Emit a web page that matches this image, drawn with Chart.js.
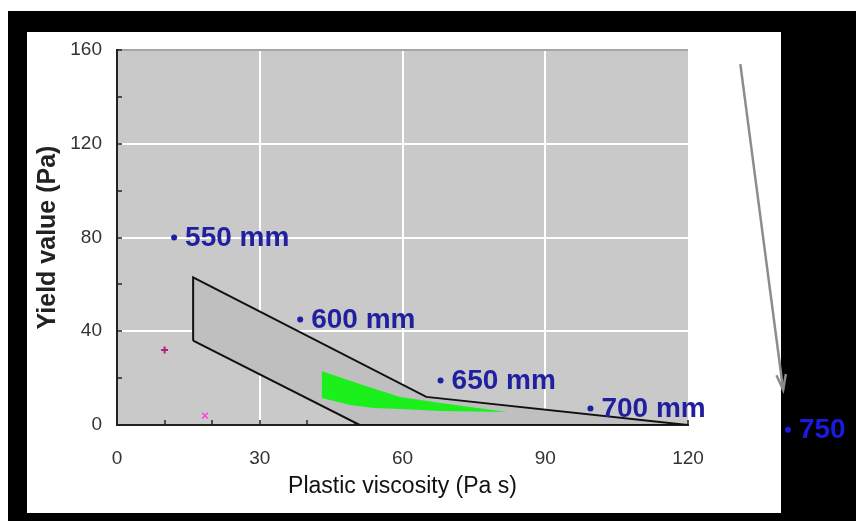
<!DOCTYPE html>
<html>
<head>
<meta charset="utf-8">
<title>Yield value vs plastic viscosity</title>
<script src="https://cdn.jsdelivr.net/npm/chart.js@4.4.0/dist/chart.umd.min.js"></script>
<style>
  html, body { margin: 0; padding: 0; background: #fff; }
  #page { position: relative; width: 856px; height: 521px; overflow: hidden; }
  #frame { position: absolute; left: 8px; top: 11px; right: 0; bottom: 0; background: #000; }
  #panel { position: absolute; left: 27px; top: 32px; width: 754px; height: 481px; background: #fff; }
  #chart { position: absolute; left: 0; top: 0; }
</style>
</head>
<body>
<div id="page">
  <div id="frame"></div>
  <div id="panel"></div>
  <canvas id="chart" width="856" height="521"></canvas>
</div>
<script>
// --- DATA ---
// slump flow points: plastic viscosity (Pa s) / yield value (Pa)
const flowX = [12, 38.5, 68, 99.5, 141];
const flowY = [80, 45, 19, 7, -2];
const flowLabels = ['550 mm', '600 mm', '650 mm', '700 mm', '750'];

// gray zone: upper edge (starts with the left side) and lower edge
const zoneUpperX = [16, 16, 65, 120];
const zoneUpperY = [36, 63, 12, 0];
const zoneLowerX = [16, 51, 120];
const zoneLowerY = [36, 0, 0];

// green zone
const greenUpperX = [43, 43, 51, 59.5, 68, 82];
const greenUpperY = [11.5, 23, 17.5, 12, 9.4, 5.5];
const greenLowerX = [43, 49, 54, 59.5, 68, 82];
const greenLowerY = [11.5, 8.5, 7.3, 6.8, 6, 5.5];

// single markers
const plusX = [10];
const plusY = [32];
const crossX = [18.5];
const crossY = [4];

// trend arrow (start, end)
const arrowX = [131, 140];
const arrowY = [154, 15];

// labelled ticks
const xTickLabels = [0, 30, 60, 90, 120];
const yTickLabels = [0, 40, 80, 120, 160];

const SANS = "'Liberation Sans', Arial, sans-serif";

function pts(xs, ys) {
    return xs.map((x, i) => ({ x: x, y: ys[i] }));
}

// gray plot background
const plotBackground = {
    id: 'plotBackground',
    beforeDraw(chart) {
        const { ctx, chartArea: a } = chart;
        ctx.save();
        ctx.fillStyle = '#c9c9c9';
        ctx.fillRect(a.left, a.top, a.right - a.left, a.bottom - a.top);
        ctx.restore();
    }
};

// "• 550 mm" style labels next to the flow points
// (points past the axes are skipped by Chart.js, so their dot is drawn here too)
const flowLabelPlugin = {
    id: 'flowLabels',
    afterDatasetsDraw(chart) {
        const ctx = chart.ctx;
        const area = chart.chartArea;
        chart.data.datasets.forEach((ds, di) => {
            if (ds.label !== 'Slump flow') return;
            const meta = chart.getDatasetMeta(di);
            meta.data.forEach((el, i) => {
                const outside = el.x > area.right || el.y > area.bottom;
                const color = outside ? '#1a1ae0' : '#1f1fa0';
                ctx.save();
                if (outside) {
                    ctx.fillStyle = color;
                    ctx.beginPath();
                    ctx.arc(el.x, el.y, 3, 0, Math.PI * 2);
                    ctx.fill();
                }
                ctx.font = 'bold 28px ' + SANS;
                ctx.textBaseline = 'middle';
                ctx.textAlign = 'left';
                ctx.fillStyle = color;
                ctx.fillText(flowLabels[i], el.x + 11, el.y + 1);
                ctx.restore();
            });
        });
    }
};

// open arrow head on the trend line
const arrowHead = {
    id: 'arrowHead',
    afterDatasetsDraw(chart) {
        const ctx = chart.ctx;
        chart.data.datasets.forEach((ds, di) => {
            if (ds.label !== 'Trend') return;
            const p = chart.getDatasetMeta(di).data;
            const a = p[p.length - 2], b = p[p.length - 1];
            const ang = Math.atan2(b.y - a.y, b.x - a.x);
            const len = 16, spread = 0.3;
            ctx.save();
            ctx.strokeStyle = ds.borderColor;
            ctx.lineWidth = 2.5;
            ctx.beginPath();
            ctx.moveTo(b.x - len * Math.cos(ang - spread), b.y - len * Math.sin(ang - spread));
            ctx.lineTo(b.x, b.y);
            ctx.lineTo(b.x - len * Math.cos(ang + spread), b.y - len * Math.sin(ang + spread));
            ctx.stroke();
            ctx.restore();
        });
    }
};

const ctx = document.getElementById('chart').getContext('2d');
const chart = new Chart(ctx, {
    type: 'scatter',
    data: {
        datasets: [
            {
                label: 'Slump flow',
                data: pts(flowX, flowY),
                pointRadius: 3,
                pointBackgroundColor: '#1f1fa0',
                pointBorderWidth: 0,
                clip: false,
                order: 0
            },
            {
                label: 'Plus',
                data: pts(plusX, plusY),
                pointStyle: 'cross',
                pointRadius: 3.5,
                pointBorderColor: '#b0207f',
                pointBorderWidth: 2,
                order: 0
            },
            {
                label: 'Cross',
                data: pts(crossX, crossY),
                pointStyle: 'crossRot',
                pointRadius: 4,
                pointBorderColor: '#ff40e0',
                pointBorderWidth: 1.5,
                order: 0
            },
            {
                label: 'Trend',
                data: pts(arrowX, arrowY),
                showLine: true,
                borderColor: '#8c8c8c',
                borderWidth: 2.5,
                pointRadius: 0,
                clip: false,
                order: 0
            },
            {
                label: 'Green upper',
                data: pts(greenUpperX, greenUpperY),
                showLine: true,
                borderWidth: 0,
                borderColor: 'rgba(0,0,0,0)',
                backgroundColor: '#1cf01c',
                fill: '+1',
                pointRadius: 0,
                order: 1
            },
            {
                label: 'Green lower',
                data: pts(greenLowerX, greenLowerY),
                showLine: true,
                borderWidth: 0,
                borderColor: 'rgba(0,0,0,0)',
                pointRadius: 0,
                order: 1
            },
            {
                // drawn first: its fill goes under both outlines
                label: 'Zone upper',
                data: pts(zoneUpperX, zoneUpperY),
                showLine: true,
                borderColor: '#111',
                borderWidth: 2,
                backgroundColor: '#bfbfbf',
                fill: '+1',
                pointRadius: 0,
                order: 3
            },
            {
                label: 'Zone lower',
                data: pts(zoneLowerX, zoneLowerY),
                showLine: true,
                borderColor: '#111',
                borderWidth: 2,
                pointRadius: 0,
                order: 2
            }
        ]
    },
    options: {
        responsive: false,
        animation: false,
        events: [],
        layout: { padding: { top: 50, right: 168, bottom: 0, left: 0 } },
        scales: {
            x: {
                type: 'linear',
                min: 0,
                max: 120,
                afterFit: s => { s.height = 96; },
                ticks: {
                    stepSize: 10,
                    autoSkip: false,
                    maxRotation: 0,
                    padding: 27,
                    color: '#333',
                    font: { family: SANS, size: 19 },
                    callback: v => xTickLabels.includes(v) ? v : ''
                },
                grid: {
                    color: c => (c.tick && xTickLabels.includes(c.tick.value) && c.tick.value > 0 && c.tick.value < 120) ? '#ffffff' : 'rgba(0,0,0,0)',
                    lineWidth: 2,
                    tickColor: '#222',
                    tickWidth: 1.5,
                    tickLength: -5
                },
                border: { color: '#222', width: 2 },
                title: {
                    display: true,
                    text: 'Plastic viscosity (Pa s)',
                    color: '#111',
                    font: { family: SANS, size: 23 },
                    padding: { top: 0, bottom: 21 }
                }
            },
            y: {
                type: 'linear',
                min: 0,
                max: 160,
                afterFit: s => { s.width = 117; },
                ticks: {
                    stepSize: 20,
                    autoSkip: false,
                    padding: 20,
                    color: '#333',
                    font: { family: SANS, size: 19 },
                    callback: v => yTickLabels.includes(v) ? v : ''
                },
                grid: {
                    color: c => {
                        if (!c.tick) return 'rgba(0,0,0,0)';
                        const v = c.tick.value;
                        if (v === 160) return '#a5a5a5';
                        return (yTickLabels.includes(v) && v > 0) ? '#ffffff' : 'rgba(0,0,0,0)';
                    },
                    lineWidth: 2,
                    tickColor: '#222',
                    tickWidth: 1.5,
                    tickLength: -5
                },
                border: { color: '#222', width: 2 },
                title: {
                    display: true,
                    text: 'Yield value (Pa)',
                    color: '#222',
                    font: { family: SANS, size: 25, weight: 'bold' },
                    padding: { top: 33, bottom: 0 }
                }
            }
        },
        plugins: {
            legend: { display: false },
            tooltip: { enabled: false }
        }
    },
    plugins: [plotBackground, flowLabelPlugin, arrowHead]
});
</script>
</body>
</html>
